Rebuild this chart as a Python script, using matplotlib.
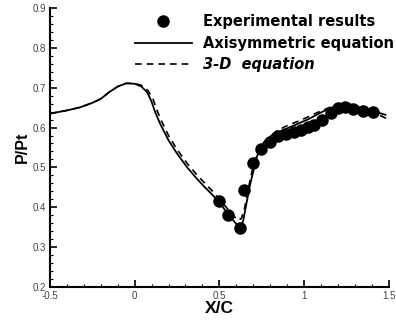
import numpy as np
import matplotlib.pyplot as plt

# experimental pressure ratio along the chord
x_exp = [0.496, 0.549, 0.619, 0.646, 0.699, 0.746, 0.796, 0.844, 0.891, 0.938,
         0.979, 1.02, 1.056, 1.103, 1.156, 1.198, 1.239, 1.286, 1.345, 1.404]
p_exp = [0.415, 0.38, 0.348, 0.443, 0.512, 0.545, 0.564, 0.578, 0.585, 0.589,
         0.593, 0.601, 0.606, 0.62, 0.6375, 0.65, 0.652, 0.6475, 0.6425, 0.64]

# axisymmetric solution
x_axi = [-0.5, -0.4, -0.32, -0.25, -0.2, -0.15, -0.1, -0.05, 0.0, 0.04, 0.075,
         0.10, 0.12, 0.15, 0.2, 0.25, 0.31, 0.36, 0.41, 0.45, 0.49, 0.53, 0.57,
         0.60, 0.62, 0.64, 0.66, 0.68, 0.70, 0.72, 0.74, 0.77, 0.82, 0.9, 0.96,
         1.03, 1.10, 1.16, 1.22, 1.26, 1.32, 1.40, 1.48]
p_axi = [0.635, 0.643, 0.651, 0.662, 0.672, 0.689, 0.703, 0.711, 0.710, 0.703,
         0.688, 0.665, 0.64, 0.61, 0.568, 0.535, 0.50, 0.475, 0.452, 0.435,
         0.417, 0.395, 0.373, 0.358, 0.35, 0.365, 0.41, 0.455, 0.49, 0.525,
         0.548, 0.567, 0.584, 0.598, 0.609, 0.622, 0.638, 0.65, 0.657, 0.66,
         0.652, 0.642, 0.632]

# 3-D solution
x_3d = [-0.5, -0.4, -0.32, -0.25, -0.2, -0.15, -0.1, -0.05, 0.0, 0.04, 0.08,
        0.11, 0.13, 0.16, 0.2, 0.25, 0.31, 0.36, 0.41, 0.46, 0.5, 0.54, 0.58,
        0.61, 0.63, 0.65, 0.67, 0.69, 0.71, 0.74, 0.78, 0.84, 0.9, 0.96, 1.03,
        1.10, 1.16, 1.22, 1.28, 1.36, 1.44, 1.51]
p_3d = [0.635, 0.643, 0.651, 0.662, 0.672, 0.689, 0.703, 0.711, 0.711, 0.706,
        0.692, 0.67, 0.645, 0.615, 0.58, 0.545, 0.51, 0.485, 0.462, 0.44, 0.42,
        0.40, 0.38, 0.367, 0.372, 0.40, 0.445, 0.485, 0.52, 0.55, 0.572, 0.592,
        0.605, 0.615, 0.628, 0.642, 0.652, 0.658, 0.656, 0.645, 0.632, 0.618]

plt.rcParams['font.family'] = ['Liberation Sans', 'DejaVu Sans']

fig = plt.figure(figsize=(3.96, 3.22), dpi=100)
ax = fig.add_axes([0.126, 0.109, 0.856, 0.866])

ax.plot(x_exp, p_exp, 'o', color='black', ms=8, label='Experimental results')
ax.plot(x_axi, p_axi, '-', color='black', lw=1.3, label='Axisymmetric equation')
ax.plot(x_3d, p_3d, color='black', lw=1.2, ls=(0, (4, 3)), label='3-D  equation')

ax.set_xlim(-0.5, 1.5)
ax.set_ylim(0.2, 0.9)
ax.set_xticks([-0.5, 0, 0.5, 1, 1.5])
ax.set_xticklabels(['-0.5', '0', '0.5', '1', '1.5'])
ax.set_yticks(np.arange(0.2, 0.91, 0.1))
ax.set_yticklabels(['0.2', '0.3', '0.4', '0.5', '0.6', '0.7', '0.8', '0.9'])
ax.set_xticks(np.arange(-0.5, 1.51, 0.1), minor=True)
ax.set_yticks(np.arange(0.2, 0.901, 0.02), minor=True)
ax.tick_params(which='major', direction='in', length=5, width=1.2,
               labelsize=7, labelcolor='#444444', pad=3)
ax.tick_params(which='minor', direction='in', length=2.5, width=0.8)

for s in ['top', 'right']:
    ax.spines[s].set_visible(False)
for s in ['left', 'bottom']:
    ax.spines[s].set_linewidth(1.5)

ax.set_xlabel('X/C', fontsize=12.5, fontweight='bold', labelpad=0)
ax.set_ylabel('P/Pt', fontsize=11.5, fontweight='bold', labelpad=2)

leg = ax.legend(loc='upper left', bbox_to_anchor=(0.251, 0.978), frameon=False,
                prop={'family': 'DejaVu Sans', 'size': 10.5, 'weight': 'bold'},
                handlelength=3.9, handletextpad=0.75, labelspacing=0.45,
                numpoints=1, borderpad=0, borderaxespad=0)
leg.get_texts()[2].set_fontstyle('italic')

fig.savefig('out.png', dpi=100)
